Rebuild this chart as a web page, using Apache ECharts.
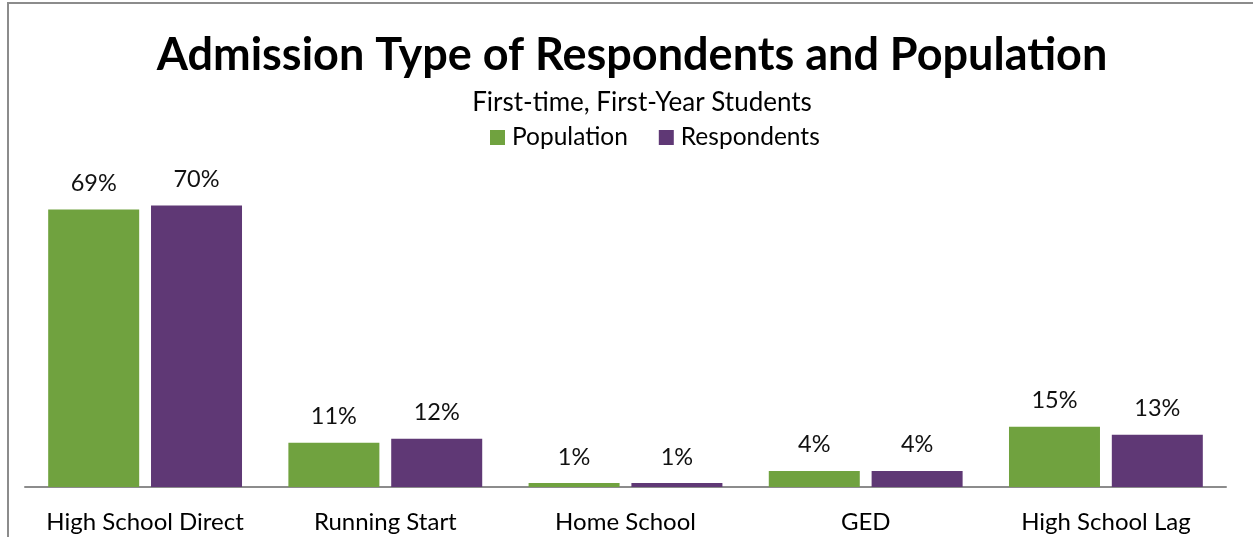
<!DOCTYPE html>
<html>
<head>
<meta charset="utf-8">
<script src="https://cdn.jsdelivr.net/npm/echarts@6/dist/echarts.min.js"></script>
<style>
  html, body { margin: 0; padding: 0; background: #fff; }
  #frame { position: absolute; left: 7px; top: 2px; width: 1260px; height: 560px; border-left: 2px solid #8c8c8c; border-top: 2px solid #8c8c8c; box-sizing: border-box; }
  #chart { position: absolute; left: 0; top: 0; width: 1253px; height: 537px; }
</style>
</head>
<body>
<div id="frame"></div>
<div id="chart"></div>
<script>
// Admission type shares, first-time first-year students (percent)
const categories = ['High School Direct', 'Running Start', 'Home School', 'GED', 'High School Lag'];
const population = [69, 11, 1, 4, 15];
const respondents = [70, 12, 1, 4, 13];
const seriesNames = ['Population', 'Respondents'];

const FONT = 'Lato, "Open Sans", sans-serif';
const chart = echarts.init(document.getElementById('chart'), null, { renderer: 'canvas' });

const labelStyle = {
  show: true,
  position: 'top',
  distance: 14,
  formatter: p => p.value + '%',
  fontFamily: FONT,
  fontSize: 23.5,
  color: '#111'
};

chart.setOption({
  animation: false,
  backgroundColor: 'transparent',
  title: [
    {
      text: 'Admission Type of Respondents and Population',
      left: 627,
      textAlign: 'center',
      top: 28,
      textStyle: { fontFamily: FONT, fontWeight: 'bold', fontSize: 45, color: '#000' }
    },
    {
      text: 'First-time, First-Year Students',
      left: 637,
      textAlign: 'center',
      top: 85,
      textStyle: { fontFamily: FONT, fontWeight: 'normal', fontSize: 26, color: '#000' }
    }
  ],
  legend: {
    data: seriesNames,
    top: 120,
    left: 485,
    itemWidth: 15,
    itemHeight: 15,
    itemGap: 31,
    icon: 'rect',
    textStyle: { fontFamily: FONT, fontSize: 24.5, color: '#000', padding: [0, 0, 0, 2] }
  },
  grid: { left: 25, right: 27, top: 85, bottom: 50 },
  xAxis: {
    type: 'category',
    data: categories,
    axisLine: { lineStyle: { color: '#8c8c8c', width: 2 } },
    axisTick: { inside: true, length: 6, lineStyle: { color: '#8c8c8c', width: 2 } },
    axisLabel: { interval: 0, margin: 23, fontFamily: FONT, fontSize: 24, color: '#000' }
  },
  yAxis: {
    type: 'value',
    min: 0,
    max: 100,
    show: false,
    splitLine: { show: false }
  },
  series: [
    {
      name: seriesNames[0],
      type: 'bar',
      data: population,
      barWidth: 91,
      barGap: '13%',
      itemStyle: { color: '#70a23f' },
      label: labelStyle
    },
    {
      name: seriesNames[1],
      type: 'bar',
      data: respondents,
      barWidth: 91,
      itemStyle: { color: '#5f3875' },
      label: labelStyle
    }
  ]
});
</script>
</body>
</html>
